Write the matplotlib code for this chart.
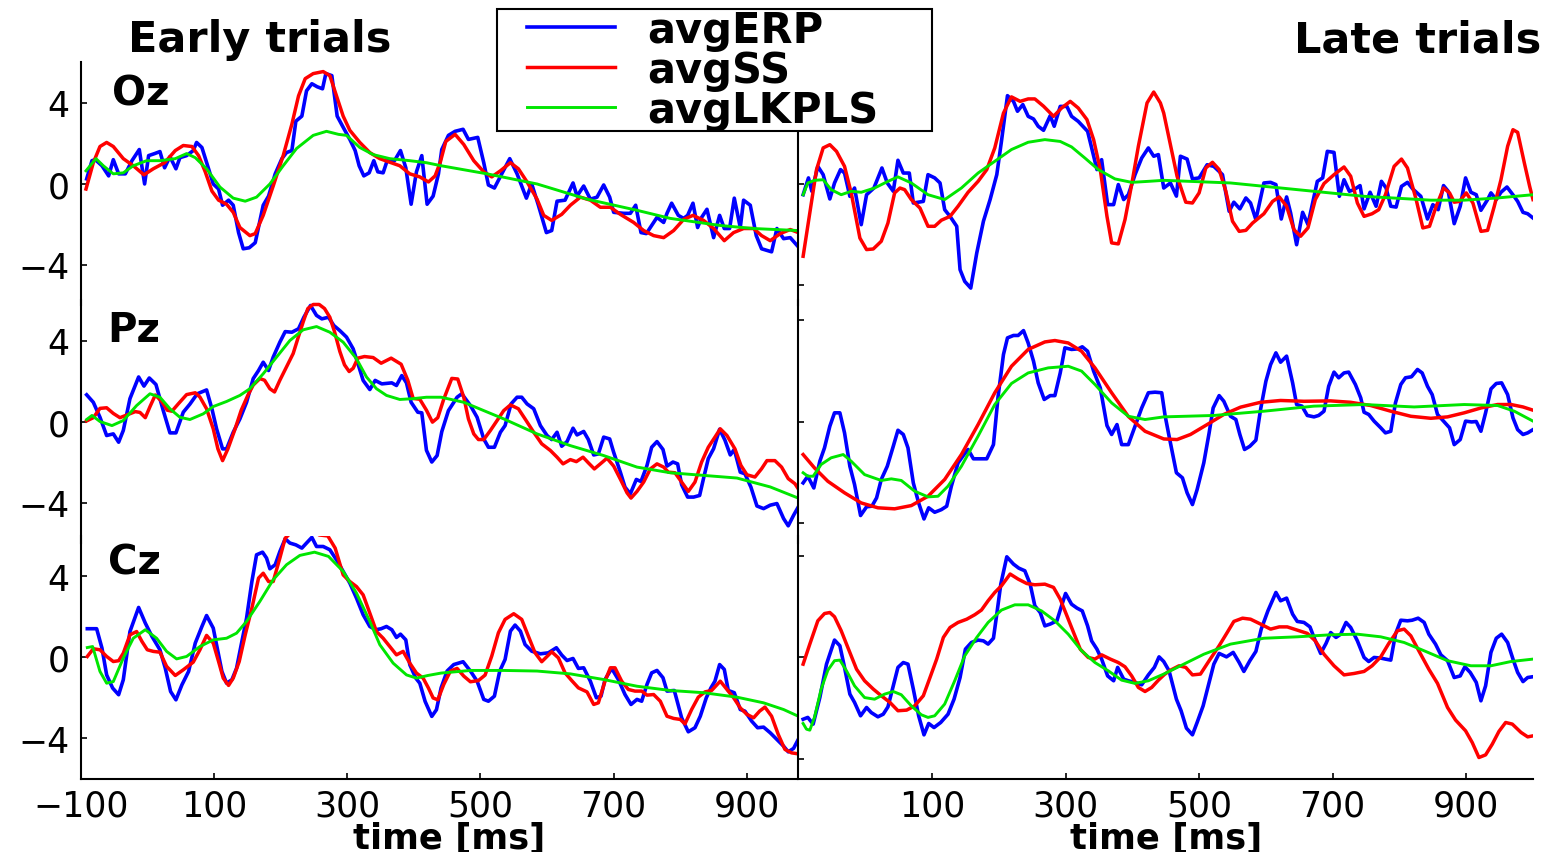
import matplotlib
matplotlib.use("Agg")
import matplotlib.pyplot as plt
from matplotlib.lines import Line2D
from matplotlib.legend_handler import HandlerLine2D

# ---- data: time [ms], amplitude ----
# Oz, early trials
oz_early_erp_t = [-91, -83, -78, -68, -58, -51, -43, -33, -23, -12, -4, 2, 11, 19, 26, 34, 43, 49, 59, 69,
                  74, 82, 92, 99, 107, 113, 122, 129, 137, 144, 153, 162, 174, 182, 192, 202, 209, 217, 223, 232,
                  239, 247, 255, 263, 268, 277, 285, 294, 304, 312, 318, 325, 333, 340, 346, 354, 360, 371, 380, 388,
                  396, 404, 412, 420, 429, 437, 442, 452, 462, 474, 482, 496, 505, 512, 521, 532, 544, 555, 569, 577,
                  587, 599, 607, 615, 627, 639, 645, 655, 665, 675, 685, 694, 700, 715, 725, 733, 741, 749, 765, 775,
                  780, 787, 797, 805, 811, 819, 826, 832, 840, 850, 859, 866, 874, 881, 890, 895, 905, 914, 922, 937,
                  945, 955, 965, 977]
oz_early_erp_v = [0.25, 1.15, 1.2, 0.9, 0.4, 1.2, 0.5, 0.5, 1.15, 1.7, 0, 1.4, 1.5, 1.6, 0.8, 1.35, 0.75, 1.3, 1.4, 1.65,
                  2.05, 1.8, 0.75, 0, -0.25, -1.05, -0.8, -1.05, -2.4, -3.2, -3.15, -2.9, -1.05, -0.6, 0.5, 1.25, 1.55, 1.65, 3.1, 3.35,
                  4.6, 4.95, 4.8, 4.7, 5.45, 5.35, 3.35, 2.8, 2.2, 1.65, 0.9, 0.4, 0.55, 1.15, 0.6, 0.55, 1.15, 1.15, 1.65, 0.8,
                  -1.0, 0.6, 1.4, -1.0, -0.6, 0.5, 1.7, 2.4, 2.6, 2.7, 2.2, 2.3, 1.05, -0.05, -0.2, 0.5, 1.25, 0.5, -0.7, 0,
                  -1.05, -2.4, -2.3, -0.85, -0.8, 0.05, -0.6, -0.1, -0.75, -0.65, -0.05, -0.65, -1.4, -1.45, -1.45, -1.05, -2.4, -2.45, -1.65, -1.9,
                  -1.45, -0.95, -1.55, -1.7, -1.55, -0.95, -2.15, -1.65, -1.25, -2.65, -1.55, -2.2, -2.2, -0.7, -2.15, -0.8, -1.05, -2.55, -3.2, -3.35,
                  -2.2, -2.7, -2.65, -3.1]
oz_early_ss_t = [-92, -81, -71, -61, -51, -36, -21, -5, 9, 26, 42, 54, 67, 77, 87, 97, 107, 119, 129, 139,
                 154, 162, 174, 189, 204, 217, 227, 237, 249, 264, 274, 284, 294, 304, 319, 334, 349, 366, 379, 394,
                 409, 422, 432, 440, 448, 462, 475, 490, 505, 517, 530, 545, 557, 570, 585, 595, 607, 622, 635, 650,
                 665, 680, 695, 710, 730, 745, 760, 775, 790, 805, 819, 835, 850, 866, 880, 895, 910, 922, 935, 950,
                 965, 977]
oz_early_ss_v = [-0.25, 1.05, 1.85, 2.05, 1.85, 1.25, 0.9, 0.45, 0.75, 1.05, 1.65, 1.9, 1.85, 1.4, 0.6, -0.35, -0.8, -1.0, -1.4, -2.15,
                 -2.55, -2.45, -1.55, -0.1, 1.4, 2.95, 4.35, 5.2, 5.45, 5.55, 5.35, 4.35, 3.35, 2.65, 2.05, 1.55, 1.25, 1.05, 0.9, 0.5,
                 0.35, 0.1, 0.4, 1.1, 2.1, 2.45, 1.95, 1.15, 0.6, 0.35, 0.65, 1.05, 0.75, 0.1, -0.75, -1.55, -1.8, -1.5, -1.05, -0.65,
                 -0.8, -1.15, -1.15, -1.5, -1.9, -2.3, -2.55, -2.65, -2.3, -1.75, -1.55, -1.8, -2.2, -2.8, -2.4, -2.2, -2.2, -2.55, -2.8, -2.45,
                 -2.25, -2.4]
oz_early_lk_t = [-92, -77, -66, -51, -36, -21, -1, 19, 42, 59, 72, 89, 109, 129, 147, 164, 184, 204, 224, 249,
                 269, 287, 299, 319, 339, 364, 394, 419, 441, 510, 585, 660, 735, 785, 860, 910, 977]
oz_early_lk_v = [0.65, 1.25, 0.9, 0.5, 0.55, 0.9, 1.15, 1.15, 1.25, 1.5, 1.3, 0.75, -0.15, -0.7, -0.85, -0.65, 0, 0.9, 1.75, 2.4,
                 2.6, 2.45, 2.4, 1.8, 1.45, 1.25, 1.15, 1.05, 0.9, 0.5, 0, -0.75, -1.3, -1.7, -2.05, -2.2, -2.3]

# Oz, late trials
oz_late_erp_t = [-93, -85, -80, -71, -63, -53, -46, -37, -31, -23, -16, -6, 2, 13, 25, 33, 42, 49, 57, 66,
                 72, 87, 94, 104, 112, 119, 127, 137, 142, 149, 158, 167, 177, 187, 197, 204, 213, 222, 228, 236,
                 244, 252, 259, 267, 277, 283, 292, 302, 309, 319, 333, 342, 347, 354, 363, 372, 379, 387, 394, 404,
                 414, 424, 432, 439, 447, 457, 466, 472, 482, 490, 500, 512, 522, 535, 545, 552, 561, 570, 577, 585,
                 597, 607, 615, 623, 631, 637, 646, 655, 663, 677, 685, 692, 702, 710, 717, 725, 732, 741, 747, 756,
                 765, 773, 780, 787, 795, 803, 812, 820, 832, 842, 850, 858, 866, 873, 882, 891, 899, 907, 915, 922,
                 932, 937, 945, 952, 961, 971, 977, 985, 992, 1000]
oz_late_erp_v = [-0.53, 0.30, -0.36, 0.87, 0.46, -0.74, 0.05, 0.71, 0.54, -0.61, -0.20, -2.01, -0.53, -0.20, 0.79, 0.05, -0.36, 1.17, 0.54, 0.54,
                 -0.94, -0.86, 0.46, 0.30, 0.05, -1.27, -1.60, -2.09, -4.23, -4.81, -5.14, -3.41, -1.84, -0.77, 0.46, 2.11, 4.36, 4.08, 3.59, 3.92,
                 3.34, 3.21, 2.85, 2.65, 3.37, 2.85, 3.83, 3.83, 3.34, 3.09, 2.60, 1.37, 0.71, 1.20, -1.02, -1.02, -0.03, -0.77, -0.53, 0.46,
                 1.28, 1.78, 1.37, 1.45, -0.2, 0.05, -0.6, 1.37, 1.23, 0.25, 0.3, 0.95, 0.87, 0.46, -1.35, -0.9, -1.23, -0.69, -0.94, -1.76,
                 0.05, 0.08, -0.03, -1.73, -0.64, -1.43, -3.0, -1.4, -2.0, 0.13, 0.3, 1.61, 1.56, -0.61, 0.21, -0.36, -0.28, -0.08, -1.23, -0.41,
                 -1.1, 0.13, -0.2, -1.1, -1.14, -0.12, 0.08, -0.25, -0.61, -1.73, -1.02, -1.27, -0.08, -0.36, -1.96, -1.1, 0.3, -0.41, -0.53, -1.3,
                 -0.77, -0.44, -0.77, -0.41, -0.15, -0.58, -0.86, -1.4, -1.47, -1.68]
oz_late_ss_t = [-93, -83, -73, -63, -53, -43, -31, -21, -8, 2, 12, 24, 34, 44, 52, 59, 69, 82, 94, 104,
                114, 127, 139, 154, 169, 182, 194, 207, 219, 232, 244, 254, 267, 282, 294, 307, 319, 332, 342, 352,
                362, 369, 379, 389, 399, 409, 422, 432, 442, 447, 457, 467, 480, 490, 500, 510, 520, 530, 540, 550,
                560, 570, 580, 597, 610, 620, 631, 642, 652, 663, 674, 687, 702, 717, 727, 737, 747, 759, 769, 779,
                792, 803, 812, 825, 835, 845, 855, 866, 875, 882, 890, 900, 910, 922, 932, 942, 952, 962, 970, 977,
                987, 995, 1000]
oz_late_ss_v = [-3.57, -1.43, 0.7, 1.78, 1.94, 1.61, 0.87, -0.44, -2.67, -3.24, -3.21, -2.83, -1.93, -0.44, -0.2, -0.28, -0.77, -1.19, -2.09, -2.09,
                -1.79, -1.6, -1.1, -0.41, 0.13, 0.71, 1.78, 3.5, 4.3, 4.08, 4.2, 4.2, 3.84, 3.34, 3.75, 4.08, 3.75, 3.18, 2.19, 0.7,
                -1.6, -2.91, -2.96, -1.76, -0.03, 1.86, 4.0, 4.54, 4.0, 3.5, 1.94, 0.38, -0.9, -0.94, -0.44, 0.79, 1.07, 0.71, -0.36, -1.84,
                -2.34, -2.29, -1.93, -1.47, -0.86, -0.64, -1.1, -2.26, -2.58, -2.17, -0.77, 0.02, 0.46, 0.84, 0.38, -0.94, -1.6, -1.47, -1.27, -0.53,
                0.87, 1.23, 0.79, -0.77, -2.17, -2.09, -1.1, -0.2, -0.44, -0.9, -0.86, -0.44, -0.94, -2.34, -2.29, -1.1, 0.21, 1.86, 2.68, 2.55,
                1.04, -0.12, -0.77]
oz_late_lk_t = [-93, -86, -76, -63, -51, -36, -21, -6, 14, 34, 49, 69, 94, 119, 144, 169, 194, 219, 244, 269,
                292, 309, 329, 349, 374, 399, 424, 447, 547, 647, 747, 847, 897, 947, 1000]
oz_late_lk_v = [-0.53, 0.05, 0.18, 0.21, -0.28, -0.53, -0.36, -0.41, -0.2, 0.13, 0.35, 0.05, -0.53, -0.77, -0.2, 0.54, 1.12, 1.7, 2.06, 2.19,
                2.1, 1.83, 1.28, 0.71, 0.25, 0.08, 0.13, 0.18, 0.05, -0.28, -0.61, -0.8, -0.8, -0.69, -0.53]

# Pz, early trials
pz_early_erp_t = [-91, -81, -71, -61, -51, -43, -36, -26, -13, -5, 3, 13, 24, 34, 43, 54, 64, 75, 89, 97,
                  104, 113, 119, 129, 139, 149, 159, 167, 174, 182, 189, 199, 207, 217, 227, 235, 245, 254, 262, 272,
                  280, 289, 299, 309, 317, 324, 334, 342, 352, 367, 374, 382, 389, 396, 406, 412, 419, 427, 435, 442,
                  452, 465, 472, 485, 495, 505, 512, 521, 530, 537, 546, 555, 562, 570, 580, 590, 600, 607, 615, 622,
                  630, 639, 645, 655, 662, 670, 677, 685, 694, 700, 710, 717, 725, 734, 741, 750, 757, 765, 774, 780,
                  789, 796, 802, 811, 820, 829, 835, 842, 850, 859, 867, 875, 881, 890, 897, 906, 915, 925, 935, 945,
                  955, 962, 970, 977]
pz_early_erp_v = [1.32, 0.95, 0.21, -0.69, -0.61, -1.02, -0.44, 1.13, 2.2, 1.75, 2.15, 1.83, 0.54, -0.56, -0.56, 0.46, 0.86, 1.37, 1.56, 0.63,
                  -0.36, -1.35, -1.35, -0.53, 0.13, 0.95, 2.12, 2.52, 2.93, 2.52, 3.18, 3.92, 4.44, 4.41, 4.58, 5.15, 5.73, 5.24, 5.07, 5.15,
                  4.74, 4.49, 4.17, 3.59, 2.77, 2.03, 1.58, 2.03, 1.86, 1.91, 1.78, 2.27, 1.91, 0.95, 0.46, 0.43, -1.42, -2.0, -1.68, -0.5,
                  0.54, 1.2, 1.37, 0.79, 0.21, -0.86, -1.27, -1.27, -0.53, -0.2, 0.87, 1.2, 1.2, 0.87, 0.63, -0.2, -0.69, -0.89, -0.53, -1.22,
                  -0.99, -0.33, -0.66, -0.49, -0.89, -1.65, -1.6, -0.77, -0.86, -1.52, -2.5, -3.24, -3.57, -2.86, -2.96, -2.17, -1.27, -0.99, -1.38, -2.2,
                  -2.0, -2.09, -3.12, -3.73, -3.73, -3.65, -2.79, -1.83, -1.34, -0.38, -0.92, -1.65, -1.38, -2.5, -2.58, -3.24, -4.17, -4.3, -4.13, -4.05,
                  -4.79, -5.15, -4.63, -4.22]
pz_early_ss_t = [-91, -81, -71, -61, -51, -41, -31, -18, -11, -3, 4, 12, 22, 30, 37, 47, 59, 72, 79, 89,
                 99, 106, 113, 121, 131, 141, 151, 159, 169, 176, 184, 191, 199, 209, 219, 226, 234, 241, 249, 258,
                 266, 274, 281, 289, 296, 303, 309, 316, 326, 339, 351, 366, 381, 391, 399, 409, 419, 428, 436, 445,
                 457, 466, 475, 482, 490, 497, 505, 515, 525, 535, 545, 557, 567, 580, 592, 605, 615, 624, 635, 644,
                 654, 662, 671, 680, 690, 700, 711, 720, 726, 735, 745, 755, 765, 775, 782, 792, 802, 812, 822, 832,
                 842, 852, 860, 870, 882, 891, 900, 912, 922, 930, 942, 952, 962, 972, 977]
pz_early_ss_v = [0.03, 0.19, 0.65, 0.68, 0.4, 0.19, 0.32, 0.49, 0.45, 0.19, 0.73, 1.31, 0.98, 0.56, 0.51, 0.89, 1.33, 1.42, 1.21, 0.63,
                 -0.36, -1.35, -1.93, -1.35, -0.44, 0.56, 1.3, 1.8, 2.12, 2.04, 1.62, 1.46, 2.04, 2.7, 3.36, 4.1, 4.92, 5.58, 5.78, 5.78,
                 5.58, 5.15, 4.44, 3.46, 2.8, 2.47, 2.63, 3.13, 3.21, 3.16, 2.88, 3.13, 2.83, 2.04, 1.14, 1.1, 0.56, -0.03, 0.19, 1.11,
                 2.13, 2.1, 1.2, 0.13, -0.61, -0.89, -0.89, -0.44, 0.05, 0.54, 0.82, 0.63, 0.13, -0.53, -1.1, -1.43, -1.76, -2.09, -1.88, -1.98,
                 -1.76, -2.04, -2.34, -2.09, -1.81, -2.2, -2.91, -3.52, -3.78, -3.45, -2.99, -2.34, -2.09, -2.25, -2.5, -2.53, -2.99, -3.45, -2.99, -2.0,
                 -1.27, -0.77, -0.36, -0.69, -1.35, -2.17, -2.63, -2.74, -2.33, -1.93, -1.93, -2.25, -2.82, -3.07, -3.32]
pz_early_lk_t = [-91, -83, -71, -53, -36, -16, 4, 19, 34, 49, 64, 84, 99, 119, 139, 154, 174, 194, 214, 234,
                 254, 274, 294, 314, 329, 344, 359, 379, 399, 419, 441, 475, 535, 585, 635, 685, 735, 785, 835, 885,
                 935, 977]
pz_early_lk_v = [0.1, 0.3, 0, -0.2, 0.05, 0.79, 1.37, 1.2, 0.63, 0.21, 0.1, 0.38, 0.74, 0.99, 1.29, 1.62, 2.36, 3.18, 4.0, 4.53,
                 4.69, 4.41, 3.92, 3.1, 2.2, 1.62, 1.29, 1.09, 1.13, 1.2, 1.2, 0.95, 0.13, -0.61, -1.19, -1.68, -2.25, -2.53, -2.66, -2.79,
                 -3.23, -3.78]

# Pz, late trials
pz_late_erp_t = [-93, -86, -77, -68, -61, -53, -46, -38, -31, -23, -16, -7, 2, 10, 17, 24, 33, 42, 49, 57,
                 64, 72, 80, 88, 95, 104, 114, 122, 129, 139, 148, 154, 162, 172, 182, 192, 199, 207, 213, 222,
                 229, 237, 244, 252, 259, 268, 277, 284, 292, 299, 309, 319, 325, 333, 342, 352, 362, 369, 377, 384,
                 394, 404, 414, 424, 434, 444, 449, 455, 466, 475, 482, 490, 497, 507, 515, 521, 530, 537, 547, 555,
                 561, 568, 576, 585, 592, 600, 607, 615, 622, 631, 640, 646, 654, 662, 672, 679, 687, 694, 702, 709,
                 717, 724, 734, 742, 747, 754, 762, 772, 779, 787, 794, 802, 809, 818, 827, 834, 842, 849, 857, 866,
                 875, 882, 891, 899, 908, 915, 922, 929, 937, 945, 953, 962, 970, 977, 985, 992, 1000]
pz_late_erp_v = [-3.03, -2.7, -3.28, -1.96, -1.3, -0.23, 0.43, 0.43, -0.56, -2.21, -3.11, -4.64, -4.21, -4.18, -3.77, -2.86, -2.21, -1.22, -0.43, -0.64,
                 -1.3, -3.03, -4.02, -4.81, -4.26, -4.48, -4.35, -4.18, -3.19, -2.04, -1.63, -1.38, -1.84, -1.84, -1.84, -1.14, 1.25, 3.31, 4.13, 4.25,
                 4.25, 4.49, 3.88, 2.98, 1.91, 1.09, 1.28, 1.28, 2.4, 3.64, 3.56, 3.59, 3.69, 3.47, 2.49, 1.66, -0.2, -0.64, -0.15, -1.14,
                 -1.14, -0.23, 0.67, 1.42, 1.45, 1.42, 0.3, -0.72, -2.53, -2.78, -3.52, -4.1, -3.36, -2.04, -0.56, 0.67, 1.28, 1.0, 0.26, 0.1,
                 -0.64, -1.38, -1.22, -0.92, 0.59, 1.99, 2.81, 3.39, 2.93, 3.23, 1.91, 0.84, 0.76, 0.3, 0.23, 0.3, 0.51, 1.74, 2.44, 2.16,
                 2.4, 2.44, 1.83, 1.17, 0.46, 0.35, 0.02, -0.31, -0.56, -0.48, 0.92, 1.83, 2.16, 2.21, 2.57, 2.4, 1.74, 1.33, 0.35, 0.02,
                 -0.31, -1.14, -0.89, 0.02, -0.02, 0, -0.48, 0.43, 1.61, 1.88, 1.91, 1.33, 0.18, -0.4, -0.64, -0.56, -0.4]
pz_late_ss_t = [-93, -76, -56, -31, -6, 19, 44, 69, 94, 119, 144, 169, 194, 219, 244, 269, 284, 304, 324, 344,
                369, 394, 419, 447, 467, 487, 512, 537, 562, 592, 622, 657, 697, 727, 757, 787, 817, 847, 872, 897,
                922, 947, 967, 985, 1000]
pz_late_ss_v = [-1.63, -2.29, -2.95, -3.52, -4.02, -4.26, -4.31, -4.15, -3.69, -2.86, -1.63, -0.15, 1.42, 2.73, 3.56, 3.93, 4.0, 3.88, 3.47, 2.65,
                1.42, 0.25, -0.48, -0.86, -0.89, -0.64, -0.15, 0.35, 0.71, 0.95, 1.04, 1.0, 1.02, 0.95, 0.79, 0.51, 0.26, 0.16, 0.23, 0.43,
                0.67, 0.84, 0.84, 0.72, 0.56]
pz_late_lk_t = [-93, -86, -78, -66, -51, -33, -21, -1, 24, 39, 54, 74, 94, 109, 124, 144, 169, 194, 219, 244,
                274, 304, 324, 344, 369, 394, 419, 447, 522, 597, 672, 747, 822, 897, 947, 972, 1000]
pz_late_lk_v = [-2.53, -2.7, -2.7, -2.12, -1.79, -1.63, -1.96, -2.62, -2.91, -2.83, -2.91, -3.44, -3.72, -3.69, -3.19, -2.21, -0.72, 0.84, 1.88, 2.4,
                2.65, 2.73, 2.49, 1.83, 0.92, 0.26, 0.1, 0.23, 0.3, 0.51, 0.76, 0.84, 0.72, 0.84, 0.79, 0.51, 0.02]

# Cz, early trials
cz_early_erp_t = [-90, -76, -68, -61, -52, -43, -36, -26, -13, -3, 7, 19, 27, 35, 43, 52, 62, 72, 82, 89,
                  99, 105, 112, 119, 127, 134, 141, 149, 157, 164, 173, 179, 184, 192, 199, 207, 214, 223, 232, 239,
                  247, 254, 264, 274, 284, 294, 304, 314, 324, 334, 343, 351, 359, 367, 374, 380, 388, 394, 403, 409,
                  417, 427, 434, 441, 450, 460, 474, 485, 495, 505, 512, 521, 529, 537, 545, 552, 560, 567, 577, 590,
                  602, 614, 622, 630, 639, 647, 655, 665, 674, 681, 687, 697, 707, 717, 726, 735, 742, 750, 757, 765,
                  774, 780, 791, 802, 812, 822, 830, 839, 846, 852, 859, 866, 872, 881, 890, 897, 907, 916, 925, 935,
                  945, 955, 962, 970, 977]
cz_early_erp_v = [1.42, 1.42, 0.46, -0.86, -1.51, -1.84, -1.1, 1.28, 2.47, 1.7, 1.04, 0.38, -0.53, -1.68, -2.09, -1.35, -0.69, 0.71, 1.53, 2.07,
                  1.45, 0.46, -0.69, -1.27, -1.1, -0.53, 0.63, 1.94, 3.75, 5.07, 5.2, 4.91, 4.38, 4.58, 5.23, 5.86, 5.65, 5.56, 5.4, 5.65,
                  5.93, 5.48, 5.48, 5.32, 4.82, 4.25, 3.67, 2.93, 2.11, 1.53, 1.37, 1.42, 1.53, 1.37, 0.99, 1.15, 0.87, -0.36, -1.02, -1.27,
                  -2.17, -2.91, -2.58, -1.5, -0.67, -0.35, -0.21, -0.67, -1.17, -2.07, -2.16, -1.91, -0.67, -0.1, 1.3, 1.6, 1.3, 0.64, 0.31, 0.18,
                  0.23, 0.48, 0.12, -0.15, -0.05, -0.54, -0.51, -1.17, -1.99, -1.91, -1.09, -0.54, -1.09, -1.83, -2.32, -2.07, -2.16, -1.33, -0.76, -0.64,
                  -1.0, -1.66, -1.63, -2.98, -3.67, -3.47, -2.9, -1.99, -1.5, -1.17, -0.35, -0.59, -1.63, -1.74, -2.57, -2.65, -3.14, -3.47, -3.44, -3.72,
                  -4.05, -4.38, -4.66, -4.49, -4.05]
cz_early_ss_t = [-90, -81, -71, -61, -51, -43, -36, -26, -16, -8, 0, 9, 19, 29, 42, 54, 69, 79, 89, 99,
                 107, 114, 122, 129, 138, 147, 157, 167, 174, 182, 189, 199, 207, 220, 240, 258, 271, 282, 294, 304,
                 314, 324, 334, 344, 354, 364, 374, 384, 394, 404, 414, 422, 429, 436, 445, 455, 465, 475, 485, 497,
                 507, 517, 527, 537, 550, 562, 572, 582, 592, 607, 617, 627, 637, 647, 660, 670, 677, 687, 695, 702,
                 712, 722, 732, 742, 750, 760, 770, 780, 790, 800, 807, 817, 827, 837, 847, 860, 870, 880, 890, 900,
                 910, 919, 927, 937, 947, 957, 967, 977]
cz_early_ss_v = [0.05, 0.43, 0.38, 0.05, -0.2, -0.16, 0.21, 1.12, 1.28, 0.79, 0.38, 0.3, 0.26, -0.44, -0.89, -0.61, -0.23, 0.38, 1.09, 0.71,
                 -0.2, -1.02, -1.38, -1.02, -0.2, 1.12, 2.44, 3.92, 4.16, 3.75, 3.75, 4.91, 5.89, 6.3, 6.45, 6.05, 6.0, 5.4, 4.08, 3.75,
                 3.5, 3.09, 2.19, 1.28, 0.95, 0.54, 0.13, 0.3, -0.28, -0.77, -1.02, -1.51, -2.0, -2.09, -1.33, -0.67, -0.54, -0.92, -1.2, -1.14,
                 -0.87, 0.07, 1.22, 1.88, 2.16, 1.88, 1.05, 0.23, -0.21, 0.28, -0.02, -0.76, -1.14, -1.5, -1.7, -2.32, -2.24, -1.17, -0.51, -0.51,
                 -1.17, -1.58, -1.66, -1.66, -1.86, -1.83, -2.16, -2.9, -3.01, -3.06, -3.28, -2.57, -1.96, -1.7, -1.63, -1.17, -1.58, -1.99, -2.49, -2.81,
                 -2.98, -2.65, -2.45, -2.9, -3.8, -4.54, -4.71, -4.76]
cz_early_lk_t = [-90, -82, -71, -61, -51, -36, -21, -3, 14, 29, 44, 59, 79, 99, 119, 134, 149, 169, 189, 209,
                 229, 251, 272, 294, 314, 334, 349, 369, 389, 404, 421, 441, 485, 535, 585, 635, 685, 735, 785, 835,
                 885, 925, 955, 977]
cz_early_lk_v = [0.49, 0.54, -0.69, -1.27, -1.19, -0.03, 0.95, 1.37, 0.95, 0.3, -0.07, 0.05, 0.54, 0.87, 0.95, 1.2, 1.78, 2.77, 3.84, 4.58,
                 5.04, 5.2, 4.99, 4.25, 3.18, 1.78, 0.63, -0.28, -0.86, -1.02, -0.89, -0.77, -0.64, -0.64, -0.67, -0.81, -1.09, -1.42, -1.63, -1.74,
                 -1.96, -2.24, -2.57, -2.9]

# Cz, late trials
cz_late_erp_t = [-93, -86, -78, -68, -58, -53, -46, -38, -31, -23, -16, -7, 2, 9, 19, 27, 34, 42, 49, 57,
                 64, 72, 80, 88, 95, 103, 113, 124, 133, 142, 150, 159, 169, 177, 184, 192, 197, 203, 212, 222,
                 230, 239, 247, 254, 262, 269, 277, 287, 294, 300, 309, 317, 325, 333, 339, 347, 354, 363, 372, 378,
                 387, 394, 404, 414, 424, 433, 440, 447, 455, 466, 473, 481, 490, 497, 506, 515, 522, 530, 541, 551,
                 560, 567, 576, 585, 593, 603, 615, 622, 631, 640, 647, 657, 666, 674, 682, 690, 697, 705, 712, 720,
                 727, 737, 747, 754, 762, 772, 779, 787, 794, 802, 812, 819, 828, 837, 844, 854, 862, 872, 882, 891,
                 898, 906, 915, 922, 929, 937, 945, 953, 962, 970, 977, 985, 992, 1000]
cz_late_erp_v = [-3.05, -2.96, -3.29, -1.98, -0.33, 0.16, 0.86, 0.58, -0.49, -1.81, -2.22, -2.88, -2.47, -2.72, -2.93, -2.8, -2.44, -1.4, -0.49, -0.25,
                 -0.33, -1.56, -2.88, -3.82, -3.26, -3.46, -3.21, -2.8, -2.06, -0.99, 0.41, 0.74, 0.86, 0.82, 0.66, 0.95, 2.14, 3.62, 4.97, 4.61,
                 4.41, 4.28, 3.62, 2.55, 2.22, 1.56, 1.65, 1.81, 2.55, 3.16, 2.63, 2.44, 2.3, 1.56, 0.82, 0.41, -0.08, -0.91, -1.15, -0.49,
                 -1.07, -1.15, -1.23, -1.35, -0.86, -0.49, 0.03, -0.2, -0.66, -2.06, -2.63, -3.49, -3.82, -3.21, -2.39, -1.23, -0.33, 0.2, 0.03, 0.25,
                 -0.25, -0.69, -0.16, 0.3, 1.4, 2.3, 3.21, 2.8, 2.93, 2.14, 1.78, 1.73, 1.51, 0.82, 0.2, 0.69, 1.23, 0.99, 1.15, 1.73,
                 1.48, 0.82, 0, -0.2, 0, -0.03, -0.08, -0.13, 1.15, 1.84, 1.81, 1.84, 1.94, 1.73, 1.15, 0.66, 0.13, -0.16, -0.99, -0.91,
                 -0.46, -0.74, -1.23, -2.14, -1.4, 0.25, 0.95, 1.15, 0.74, -0.08, -0.74, -1.19, -0.99, -0.95]
cz_late_ss_t = [-93, -83, -71, -61, -53, -46, -36, -26, -13, -1, 12, 24, 37, 49, 62, 74, 87, 97, 107, 117,
                127, 139, 152, 164, 174, 184, 194, 204, 217, 229, 242, 254, 269, 282, 292, 302, 312, 322, 334, 344,
                354, 367, 379, 389, 399, 409, 419, 429, 439, 448, 457, 470, 480, 490, 502, 515, 530, 542, 552, 565,
                577, 592, 607, 620, 632, 647, 662, 674, 687, 702, 717, 732, 747, 759, 772, 784, 797, 807, 817, 829,
                844, 857, 872, 884, 899, 909, 919, 929, 939, 949, 959, 969, 982, 992, 1000]
cz_late_ss_v = [-0.33, 0.66, 1.81, 2.17, 2.22, 2.01, 1.32, 0.49, -0.58, -1.15, -1.56, -1.89, -2.22, -2.63, -2.6, -2.39, -1.89, -0.99, -0.08, 0.99,
                1.48, 1.73, 1.89, 2.11, 2.34, 2.8, 3.21, 3.54, 4.12, 3.87, 3.65, 3.59, 3.62, 3.46, 2.88, 2.06, 1.23, 0.41, 0, -0.08,
                0.13, -0.08, -0.25, -0.46, -0.91, -1.48, -1.68, -1.48, -1.12, -0.84, -0.63, -0.41, -0.49, -0.86, -0.82, -0.16, 0.58, 1.23, 1.78, 1.94,
                1.89, 1.65, 1.4, 1.51, 1.51, 1.35, 1.19, 0.82, 0.16, -0.41, -0.86, -0.79, -0.69, -0.41, 0.03, 0.69, 1.32, 1.4, 1.07, 0.33,
                -0.58, -1.28, -2.47, -3.09, -3.62, -4.2, -4.94, -4.81, -4.28, -3.65, -3.21, -3.29, -3.7, -3.92, -3.87]
cz_late_lk_t = [-93, -88, -83, -76, -66, -56, -46, -38, -28, -16, -1, 14, 29, 42, 54, 69, 84, 94, 104, 119,
                134, 149, 167, 184, 204, 224, 244, 264, 284, 304, 324, 344, 364, 384, 404, 424, 447, 477, 507, 547,
                597, 647, 697, 737, 772, 807, 837, 872, 907, 937, 967, 1000]
cz_late_lk_v = [-3.26, -3.54, -3.59, -2.96, -1.56, -0.63, -0.16, -0.13, -0.66, -1.4, -1.98, -2.06, -1.81, -1.68, -1.84, -2.39, -2.83, -2.96, -2.88, -2.3,
                -1.15, 0.08, 0.99, 1.73, 2.34, 2.6, 2.6, 2.3, 1.81, 1.15, 0.33, -0.25, -0.66, -1.12, -1.28, -1.15, -0.82, -0.33, 0.16, 0.66,
                0.95, 1.02, 1.12, 1.15, 1.02, 0.74, 0.33, -0.16, -0.41, -0.41, -0.2, -0.08]

channels = ['Oz', 'Pz', 'Cz']
series_names = ['avgERP', 'avgSS', 'avgLKPLS']
left_xticks = [-100, 100, 300, 500, 700, 900]
right_xticks = [100, 300, 500, 700, 900]

BLUE = '#0000ff'
RED = '#ff0000'
GREEN = '#00e600'

early = [
    ((oz_early_erp_t, oz_early_erp_v), (oz_early_ss_t, oz_early_ss_v), (oz_early_lk_t, oz_early_lk_v)),
    ((pz_early_erp_t, pz_early_erp_v), (pz_early_ss_t, pz_early_ss_v), (pz_early_lk_t, pz_early_lk_v)),
    ((cz_early_erp_t, cz_early_erp_v), (cz_early_ss_t, cz_early_ss_v), (cz_early_lk_t, cz_early_lk_v)),
]
late = [
    ((oz_late_erp_t, oz_late_erp_v), (oz_late_ss_t, oz_late_ss_v), (oz_late_lk_t, oz_late_lk_v)),
    ((pz_late_erp_t, pz_late_erp_v), (pz_late_ss_t, pz_late_ss_v), (pz_late_lk_t, pz_late_lk_v)),
    ((cz_late_erp_t, cz_late_erp_v), (cz_late_ss_t, cz_late_ss_v), (cz_late_lk_t, cz_late_lk_v)),
]


def draw_panel(ax, panel):
    erp, ss, lk = panel
    h1, = ax.plot(erp[0], erp[1], color=BLUE, lw=2.6, solid_joinstyle='round')
    h2, = ax.plot(ss[0], ss[1], color=RED, lw=2.5, solid_joinstyle='round')
    h3, = ax.plot(lk[0], lk[1], color=GREEN, lw=2.1, solid_joinstyle='round')
    return [h1, h2, h3]


def style_axis(ax, xlim, yticks, ylabels, bottom, xticks, xlabel_x):
    ax.set_xlim(*xlim)
    ax.set_ylim(-6, 6)
    ax.set_facecolor('none')
    ax.spines['top'].set_visible(False)
    ax.spines['right'].set_visible(False)
    ax.spines['left'].set_linewidth(1.5)
    ax.set_yticks(yticks)
    if not ylabels:
        ax.set_yticklabels([])
    ax.tick_params(direction='in', length=4.5, width=1.2, labelsize=25, pad=8)
    if bottom:
        ax.tick_params(axis='x', pad=6.5)
        ax.spines['bottom'].set_linewidth(1.5)
        ax.set_xticks(xticks)
        ax.set_xlabel('time [ms]', fontsize=25.5, fontweight='bold')
        ax.xaxis.set_label_coords(xlabel_x, -0.17)
    else:
        ax.spines['bottom'].set_visible(False)
        ax.set_xticks([])


fig = plt.figure(figsize=(15.51, 8.53), dpi=100)

row_bottoms = [0.6407, 0.3622, 0.0856]
row_h = 0.2849
label_pos = [(0.044, 0.829), (0.037, 0.831), (0.038, 0.844)]

handles = None
for i in range(3):
    axl = fig.add_axes([0.0520, row_bottoms[i], 0.4618, row_h])
    hs = draw_panel(axl, early[i])
    if handles is None:
        handles = hs
    style_axis(axl, (-100, 975), [-4, 0, 4], True, i == 2, left_xticks, 0.514)
    axl.text(label_pos[i][0], label_pos[i][1], channels[i], transform=axl.transAxes,
             fontsize=29, fontweight='bold', va='baseline', ha='left')

    axr = fig.add_axes([0.5148, row_bottoms[i], 0.4736, row_h])
    draw_panel(axr, late[i])
    style_axis(axr, (-100, 1000), [-5, 0, 5], False, i == 2, right_xticks, 0.5)

fig.text(0.1676, 0.939, 'Early trials', ha='center', va='baseline', fontsize=31, fontweight='bold')
fig.text(0.9936, 0.939, 'Late trials', ha='right', va='baseline', fontsize=31, fontweight='bold')

# legend: handle line inset from the frame like the original
leg = fig.legend(handles, series_names, loc='upper left',
                 bbox_to_anchor=(0.3204, 0.8465, 0.2805, 0.1418), mode='expand',
                 borderaxespad=0, fancybox=False, framealpha=1, edgecolor='black',
                 prop={'weight': 'bold', 'size': 30}, handlelength=2.83, handletextpad=0.77,
                 labelspacing=-0.05, borderpad=0.0,
                 handler_map={Line2D: HandlerLine2D(xpad=0.72)})
leg.get_frame().set_linewidth(1.5)

fig.savefig('out.png', dpi=100)
